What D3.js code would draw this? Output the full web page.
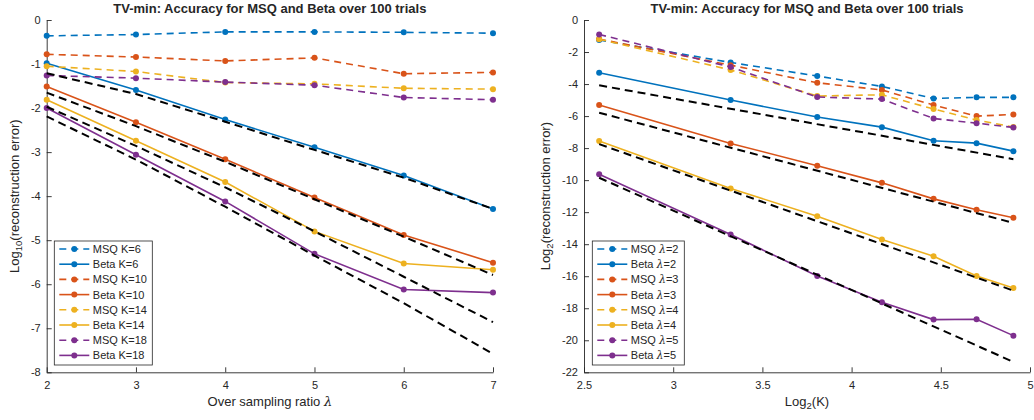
<!DOCTYPE html>
<html>
<head>
<meta charset="utf-8">
<script src="https://cdn.jsdelivr.net/npm/d3@7"></script>
<style>
  body { margin: 0; background: #fff; }
  svg text { font-family: 'Liberation Sans', Arial, Helvetica, sans-serif; fill: #262626; }
</style>
</head>
<body>
<div id="chart"></div>
<script>
// ---- data ----
const lambdas = [2, 3, 4, 5, 6, 7];
const kValues = [6, 10, 14, 18, 22, 26, 30];

// left panel: log10(error) vs lambda, one series per K
const msqK6  = [-0.36, -0.33, -0.27, -0.27, -0.28, -0.30];
const msqK10 = [-0.78, -0.84, -0.93, -0.86, -1.22, -1.19];
const msqK14 = [-1.05, -1.17, -1.42, -1.45, -1.55, -1.57];
const msqK18 = [-1.26, -1.32, -1.41, -1.48, -1.76, -1.81];
const betaK6  = [-0.98, -1.59, -2.26, -2.89, -3.53, -4.29];
const betaK10 = [-1.51, -2.32, -3.16, -4.03, -4.88, -5.51];
const betaK14 = [-1.81, -2.74, -3.68, -4.80, -5.53, -5.67];
const betaK18 = [-2.00, -3.06, -4.12, -5.31, -6.12, -6.19];
const refK6  = [-1.21, -1.68, -2.31, -2.95, -3.58, -4.29];
const refK10 = [-1.65, -2.41, -3.22, -4.07, -4.92, -5.79];
const refK14 = [-1.97, -2.86, -3.80, -4.80, -5.83, -6.86];
const refK18 = [-2.19, -3.17, -4.24, -5.35, -6.43, -7.58];

// right panel: log2(error) vs log2(K), one series per lambda
const msqL2 = [-1.25, -2.65, -3.50, -4.15, -4.90, -4.83, -4.83];
const msqL3 = [-1.19, -2.82, -3.92, -4.37, -5.31, -6.00, -5.90];
const msqL4 = [-1.20, -3.12, -4.75, -4.67, -5.56, -6.25, -6.68];
const msqL5 = [-0.90, -2.94, -4.81, -4.94, -6.15, -6.44, -6.71];
const betaL2 = [-3.29, -5.00, -6.06, -6.69, -7.54, -7.69, -8.19];
const betaL3 = [-5.31, -7.71, -9.10, -10.17, -11.17, -11.85, -12.35];
const betaL4 = [-7.56, -10.52, -12.25, -13.71, -14.75, -15.98, -16.73];
const betaL5 = [-9.63, -13.40, -15.98, -17.63, -18.71, -18.69, -19.71];
const refKEnds = [6, 30];
const refL2 = [-4.08, -8.69];
const refL3 = [-5.79, -12.67];
const refL4 = [-7.75, -16.90];
const refL5 = [-9.85, -21.35];

const colors = ['#0072BD', '#D95319', '#EDB120', '#7E2F8E'];
const titleText = 'TV-min: Accuracy for MSQ and Beta over 100 trials';

const svg = d3.select('#chart').append('svg')
    .attr('width', 1034)
    .attr('height', 420);

function drawPanel(p) {
    const x = d3.scaleLinear().domain(p.xDomain).range([p.left, p.right]);
    const y = d3.scaleLinear().domain(p.yDomain).range([p.bottom, p.top]);
    const g = svg.append('g');

    const xAxis = g.append('g')
        .attr('transform', `translate(0,${p.bottom})`)
        .call(d3.axisBottom(x).tickValues(p.xTicks).tickSize(-5).tickSizeOuter(0)
            .tickPadding(9).tickFormat(d => String(d)));
    const yAxis = g.append('g')
        .attr('transform', `translate(${p.left},0)`)
        .call(d3.axisLeft(y).tickValues(p.yTicks).tickSize(-5).tickSizeOuter(0)
            .tickPadding(6).tickFormat(d => String(d)));
    [xAxis, yAxis].forEach(a => {
        a.select('.domain').attr('stroke', '#262626').attr('stroke-width', 0.9);
        a.selectAll('.tick line').attr('stroke', '#262626').attr('stroke-width', 0.9);
        a.selectAll('.tick text').attr('font-size', 11).attr('fill', '#262626');
    });

    const line = d3.line().x(d => x(d[0])).y(d => y(d[1]));

    p.series.forEach((s, i) => {
        const msqPts = p.xs.map((xv, j) => [xv, s.msq[j]]);
        const betaPts = p.xs.map((xv, j) => [xv, s.beta[j]]);
        [[msqPts, '7,5'], [betaPts, null]].forEach(([pts, dash]) => {
            g.append('path')
                .attr('d', line(pts))
                .attr('fill', 'none')
                .attr('stroke', colors[i])
                .attr('stroke-width', 1.6)
                .attr('stroke-dasharray', dash);
            g.selectAll(null).data(pts).enter().append('circle')
                .attr('cx', d => x(d[0]))
                .attr('cy', d => y(d[1]))
                .attr('r', 3)
                .attr('fill', colors[i]);
        });
    });

    p.refs.forEach(r => {
        g.append('path')
            .attr('d', line(r.xs.map((xv, j) => [xv, r.ys[j]])))
            .attr('fill', 'none')
            .attr('stroke', '#000')
            .attr('stroke-width', 2)
            .attr('stroke-dasharray', '8,5');
    });

    // title
    g.append('text')
        .attr('x', (p.left + p.right) / 2)
        .attr('y', 13)
        .attr('text-anchor', 'middle')
        .attr('font-size', 13)
        .attr('font-weight', 'bold')
        .attr('fill', '#000')
        .text(titleText);

    // x label
    const xl = g.append('text')
        .attr('x', (p.left + p.right) / 2)
        .attr('y', 406)
        .attr('text-anchor', 'middle')
        .attr('font-size', 13);
    p.xLabel(xl);

    // y label
    const yl = g.append('text')
        .attr('transform', `translate(${p.yLabelX},${(p.top + p.bottom) / 2}) rotate(-90)`)
        .attr('text-anchor', 'middle')
        .attr('font-size', 13);
    yl.append('tspan').text('Log');
    yl.append('tspan').attr('font-size', 9.5).attr('dy', 3).text(p.yBase);
    yl.append('tspan').attr('dy', -3).text('(reconstruction error)');

    // legend
    const lg = g.append('g').attr('transform', `translate(${p.legendX},241)`);
    const rowH = 15.2;
    const rows = [];
    p.series.forEach((s, i) => {
        rows.push({ kind: 'MSQ', dash: '7,5', color: colors[i], label: s.label });
        rows.push({ kind: 'Beta', dash: null, color: colors[i], label: s.label });
    });
    lg.append('rect')
        .attr('x', 0).attr('y', 0)
        .attr('width', p.legendW).attr('height', 124)
        .attr('fill', '#fff')
        .attr('stroke', '#262626')
        .attr('stroke-width', 0.8);
    rows.forEach((r, i) => {
        const cy = 8 + i * rowH;
        lg.append('line')
            .attr('x1', 5).attr('x2', 35)
            .attr('y1', cy).attr('y2', cy)
            .attr('stroke', r.color)
            .attr('stroke-width', 1.6)
            .attr('stroke-dasharray', r.dash);
        lg.append('circle').attr('cx', 20).attr('cy', cy).attr('r', 3).attr('fill', r.color);
        const t = lg.append('text')
            .attr('x', 38.5).attr('y', cy + 4)
            .attr('font-size', 11)
            .attr('fill', '#000');
        p.legendText(t, r);
    });
}

drawPanel({
    left: 46.7, right: 493, top: 20, bottom: 372.3,
    xDomain: [2, 7], yDomain: [-8, 0],
    xTicks: [2, 3, 4, 5, 6, 7], yTicks: [0, -1, -2, -3, -4, -5, -6, -7, -8],
    xs: lambdas,
    series: [
        { label: 'K=6', msq: msqK6, beta: betaK6 },
        { label: 'K=10', msq: msqK10, beta: betaK10 },
        { label: 'K=14', msq: msqK14, beta: betaK14 },
        { label: 'K=18', msq: msqK18, beta: betaK18 }
    ],
    refs: [refK6, refK10, refK14, refK18].map(ys => ({ xs: lambdas, ys })),
    yBase: '10',
    yLabelX: 19,
    xLabel: t => {
        t.append('tspan').text('Over sampling ratio ');
        t.append('tspan').attr('font-family', "'DejaVu Serif', serif").attr('font-style', 'italic').text('λ');
    },
    legendX: 54.3, legendW: 98,
    legendText: (t, r) => t.text(`${r.kind} ${r.label}`)
});

drawPanel({
    left: 584, right: 1030, top: 20, bottom: 372.3,
    xDomain: [2.5, 5], yDomain: [-22, 0],
    xTicks: [2.5, 3, 3.5, 4, 4.5, 5], yTicks: d3.range(0, -23, -2),
    xs: kValues.map(k => Math.log2(k)),
    series: [
        { label: '2', msq: msqL2, beta: betaL2 },
        { label: '3', msq: msqL3, beta: betaL3 },
        { label: '4', msq: msqL4, beta: betaL4 },
        { label: '5', msq: msqL5, beta: betaL5 }
    ],
    refs: [refL2, refL3, refL4, refL5].map(ys => ({ xs: refKEnds.map(k => Math.log2(k)), ys })),
    yBase: '2',
    yLabelX: 550,
    xLabel: t => {
        t.append('tspan').text('Log');
        t.append('tspan').attr('font-size', 9.5).attr('dy', 3).text('2');
        t.append('tspan').attr('dy', -3).text('(K)');
    },
    legendX: 592.3, legendW: 92,
    legendText: (t, r) => {
        t.append('tspan').text(`${r.kind} `);
        t.append('tspan').attr('font-family', "'DejaVu Serif', serif").attr('font-style', 'italic').text('λ');
        t.append('tspan').text(`=${r.label}`);
    }
});
</script>
</body>
</html>
